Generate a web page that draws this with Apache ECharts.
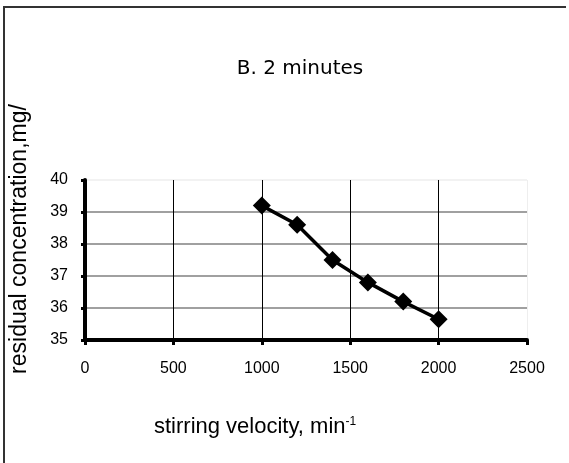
<!DOCTYPE html>
<html>
<head>
<meta charset="utf-8">
<script src="https://cdn.jsdelivr.net/npm/echarts@6/dist/echarts.min.js"></script>
<style>
html,body{margin:0;padding:0;background:#fff;}
#chart{width:569px;height:463px;}
</style>
</head>
<body>
<div id="chart"></div>
<script>
var titleText = 'B. 2 minutes';
var xName = 'stirring velocity, min';
var xNameSup = '-1';
var yName = 'residual concentration,mg/';
var velocity = [1000, 1200, 1400, 1600, 1800, 2000];
var concentration = [39.2, 38.6, 37.5, 36.8, 36.2, 35.65];

var F = 'Arial, "Liberation Sans", sans-serif';
var chart = echarts.init(document.getElementById('chart'), null, {renderer: 'canvas'});
chart.setOption({
  animation: false,
  backgroundColor: '#fff',
  grid: {left: 85, right: 42, top: 180, bottom: 123, containLabel: false},
  xAxis: {
    type: 'value', min: 0, max: 2500, interval: 500,
    axisLine: {show: true, onZero: false, lineStyle: {color: '#000', width: 4}},
    axisTick: {show: true, length: 5, lineStyle: {color: '#000', width: 3}},
    axisLabel: {color: '#000', fontSize: 16, fontFamily: F, margin: 21, formatter: function (v) { return String(v); }},
    splitLine: {show: true, showMinLine: false, lineStyle: {color: ['#000', '#000', '#000', '#000', '#eeeeee'], width: 1}}
  },
  yAxis: {
    type: 'value', min: 35, max: 40, interval: 1,
    axisLine: {show: true, onZero: false, lineStyle: {color: '#000', width: 4}},
    axisTick: {show: true, length: 4, lineStyle: {color: '#000', width: 3}},
    axisLabel: {color: '#000', fontSize: 16, fontFamily: F, margin: 17, formatter: function (v) { return String(v); }},
    splitLine: {show: true, showMinLine: false, lineStyle: {color: ['#808080', '#808080', '#808080', '#808080', '#eeeeee'], width: 1.5}}
  },
  series: [{
    type: 'line',
    data: velocity.map(function (v, i) { return [v, concentration[i]]; }),
    symbol: 'diamond', symbolSize: 18,
    lineStyle: {color: '#000', width: 3.5},
    itemStyle: {color: '#000'}
  }],
  graphic: [
    {type: 'polyline', shape: {points: [[4, 463], [4, 7], [566, 7]]}, style: {stroke: '#333', lineWidth: 2, fill: null}},
    {type: 'text', x: 300, y: 69, style: {text: titleText, font: '20px "DejaVu Sans", sans-serif', fill: '#000', textAlign: 'center', textVerticalAlign: 'middle'}},
    {type: 'text', x: 20, y: 239, rotation: Math.PI / 2, style: {text: yName, font: '23px ' + F, fill: '#000', textAlign: 'center', textVerticalAlign: 'middle'}},
    {type: 'text', x: 154, y: 427, style: {
      text: '{a|' + xName + '}{s|' + xNameSup + '}',
      textAlign: 'left', textVerticalAlign: 'middle',
      rich: {
        a: {fontSize: 22, fontFamily: F, fill: '#000', color: '#000'},
        s: {fontSize: 12, fontFamily: F, color: '#000', fill: '#000', verticalAlign: 'top', padding: [0, 0, 8, 0]}
      }
    }}
  ]
});
</script>
</body>
</html>
